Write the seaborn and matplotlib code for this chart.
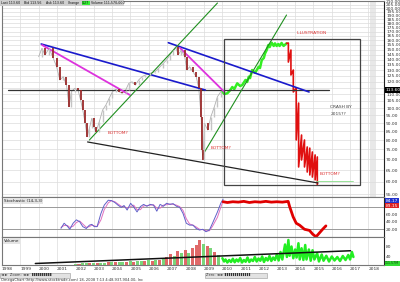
import matplotlib
matplotlib.use("Agg")
import matplotlib.pyplot as plt
import matplotlib.transforms as mtrans
from matplotlib.patches import Rectangle
from matplotlib.ticker import NullLocator, NullFormatter
import seaborn as sns

# ---------------- data ----------------
hist_years = [2000.00, 2000.18, 2000.35, 2000.57, 2000.80, 2000.98, 2001.16, 2001.34, 2001.52, 2001.66,
              2001.79, 2001.97, 2002.15, 2002.29, 2002.41, 2002.54, 2002.65, 2002.77, 2002.90, 2003.01,
              2003.13, 2003.31, 2003.49, 2003.67, 2003.85, 2004.03, 2004.21, 2004.39, 2004.56, 2004.75,
              2004.92, 2005.10, 2005.28, 2005.46, 2005.64, 2005.82, 2006.09, 2006.36, 2006.54, 2006.81,
              2006.98, 2007.17, 2007.34, 2007.49, 2007.61, 2007.79, 2007.97, 2008.10, 2008.24, 2008.42,
              2008.60, 2008.74, 2008.87, 2008.92, 2008.97, 2009.05, 2009.23, 2009.40, 2009.59, 2009.76, 2009.94]
hist_price = [142.8, 151.4, 144.5, 151.4, 141.2, 133.2, 121.5, 124.3, 117.3, 100.9,
              112.0, 114.7, 113.3, 105.7, 98.6, 89.9, 81.9, 86.8, 93.1, 87.8,
              84.8, 90.9, 98.6, 102.1, 107.0, 112.0, 113.9, 112.0, 110.7, 113.3,
              118.7, 120.0, 117.3, 121.5, 124.3, 125.8, 127.3, 128.7, 131.7, 136.4,
              139.6, 144.5, 149.6, 153.1, 144.5, 149.6, 142.8, 130.2, 133.2, 128.7,
              124.3, 114.7, 94.1, 74.7, 69.7, 89.9, 85.8, 94.1, 100.9, 108.2, 112.0]

illus_years = [2010.03, 2010.14, 2010.30, 2010.46, 2010.57, 2010.68, 2010.84, 2011.00, 2011.11, 2011.29,
               2011.38, 2011.47, 2011.54, 2011.65, 2011.82, 2012.01, 2012.08, 2012.18, 2012.29, 2012.36,
               2012.45, 2012.54, 2012.61, 2012.72, 2012.83, 2012.90, 2012.99, 2013.08, 2013.15, 2013.26,
               2013.37, 2013.53]
illus_price = [111.8, 110.2, 110.8, 113.3, 115.7, 114.1, 118.7, 116.5, 117.3, 121.5,
               119.8, 124.3, 123.1, 130.2, 127.8, 133.2, 132.0, 139.6, 141.5, 146.2,
               149.6, 154.9, 152.7, 157.4, 153.9, 156.7, 153.9, 156.0, 153.9, 157.1,
               153.9, 156.7]

crash_years = [2013.53, 2013.63, 2013.63, 2013.77, 2013.77, 2013.90, 2013.90, 2014.06, 2014.06, 2014.19,
               2014.19, 2014.35, 2014.35, 2014.51, 2014.51, 2014.66, 2014.66, 2014.80, 2014.80, 2014.94,
               2014.94, 2015.09, 2015.09, 2015.21, 2015.21]
crash_price = [156.7, 157.1, 137.6, 149.6, 125.8, 130.2, 111.8, 114.9, 80.1, 103.5,
               66.4, 82.9, 69.7, 80.1, 66.4, 76.3, 64.1, 75.7, 62.8, 73.7,
               61.9, 72.2, 60.7, 71.2, 58.6]

# trend lines (start, end)
blue1_years, blue1_price = [2000.14, 2009.10], [156.0, 113.3]
blue2_years, blue2_price = [2007.08, 2014.76], [157.4, 111.8]
pink1_years, pink1_price = [2000.19, 2004.98], [154.9, 109.5]
pink2_years, pink2_price = [2007.72, 2010.14], [151.7, 111.8]
green1_years, green1_price = [2002.77, 2009.76], [80.1, 207.4]
green2_years, green2_price = [2008.96, 2013.53], [72.2, 190.8]
black_years, black_price = [2002.67, 2015.25], [79.0, 59.4]
hline_years, hline_price = [1998.31, 2015.84], [113.6, 113.6]
lgreen_years, lgreen_price = [2015.14, 2017.18], [60.2, 60.2]
box_years, box_price = [2010.09, 2017.56], [58.6, 161.5]

stoch_years = [2001.22, 2001.39, 2001.57, 2001.70, 2001.88, 2002.06, 2002.24, 2002.41, 2002.60, 2002.77,
               2002.90, 2003.04, 2003.19, 2003.40, 2003.58, 2003.80, 2003.97, 2004.16, 2004.33, 2004.51,
               2004.66, 2004.83, 2005.02, 2005.19, 2005.37, 2005.55, 2005.73, 2005.91, 2006.09, 2006.27,
               2006.45, 2006.63, 2006.81, 2006.98, 2007.17, 2007.34, 2007.52, 2007.70, 2007.88, 2008.06,
               2008.24, 2008.42, 2008.60, 2008.78, 2008.96, 2009.13, 2009.32, 2009.49, 2009.76, 2009.94, 2010.07]
stoch_k = [22.5, 36, 28, 20, 36, 45, 40, 27, 22, 31, 33, 27, 27, 62, 84, 97, 96, 91, 84, 78,
           83, 71, 89, 79, 66, 80, 86, 81, 86, 84, 68, 86, 81, 89, 86, 88, 81, 78, 62, 36,
           31, 31, 22, 18, 20, 13.5, 18, 36, 66, 89, 100]
stoch_d = [25, 30, 30, 25, 28, 38, 42, 34, 25, 27, 31, 29, 27, 45, 72, 90, 96, 93, 87, 81,
           80, 76, 80, 84, 72, 72, 82, 83, 84, 85, 76, 76, 84, 85, 87, 86, 84, 80, 70, 48,
           34, 31, 26, 20, 19, 16, 16, 28, 52, 78, 95]
stoch_ill_years = [2010.07, 2010.30, 2010.60, 2010.90, 2011.20, 2011.50, 2011.80, 2012.10, 2012.40, 2012.70,
                   2013.00, 2013.30, 2013.62, 2013.70, 2013.89, 2014.06, 2014.24, 2014.51, 2014.78, 2014.96,
                   2015.14, 2015.32, 2015.50, 2015.68]
stoch_ill = [93, 91, 93, 92, 94, 91, 93, 92, 94, 92, 93, 92, 94, 80, 53, 36, 31, 20, 17, 7, 0, 10, 20, 29]

vol_years = [2002.0, 2002.2, 2002.4, 2002.6, 2002.8, 2003.0, 2003.2, 2003.4, 2003.6, 2003.8,
             2004.0, 2004.2, 2004.4, 2004.6, 2004.8, 2005.0, 2005.2, 2005.4, 2005.6, 2005.8,
             2006.0, 2006.2, 2006.4, 2006.6, 2006.8, 2007.0, 2007.2, 2007.4, 2007.6, 2007.8,
             2008.0, 2008.2, 2008.4, 2008.6, 2008.8, 2009.0, 2009.2, 2009.4, 2009.6, 2009.8]
vol_vals = [13, 14, 15, 16, 15, 16, 17, 18, 17, 19, 20, 19, 21, 22, 21, 23, 22, 24, 25, 24,
            27, 26, 30, 28, 34, 40, 52, 45, 64, 55, 70, 58, 75, 88, 108, 92, 84, 76, 62, 50]
vol_dir = ['g', 'r', 'g', 'g', 'r', 'g', 'r', 'g', 'g', 'r', 'g', 'r', 'g', 'g', 'r', 'g', 'r', 'g', 'g', 'r',
           'g', 'r', 'g', 'r', 'g', 'r', 'r', 'g', 'r', 'g', 'r', 'g', 'r', 'r', 'r', 'g', 'r', 'g', 'r', 'g']
vol_ill_years = [2010.03, 2010.12, 2010.20, 2010.30, 2010.40, 2010.50, 2010.60, 2010.70, 2010.80, 2010.90,
                 2011.00, 2011.10, 2011.20, 2011.30, 2011.40, 2011.50, 2011.60, 2011.70, 2011.80, 2011.90,
                 2012.00, 2012.10, 2012.20, 2012.30, 2012.40, 2012.50, 2012.60, 2012.70, 2012.80, 2012.90,
                 2013.00, 2013.10, 2013.20, 2013.30, 2013.45, 2013.55, 2013.63, 2013.70, 2013.80, 2013.90,
                 2014.00, 2014.08, 2014.18, 2014.25, 2014.35, 2014.45, 2014.55, 2014.62, 2014.75, 2014.85,
                 2014.95, 2015.05, 2015.20, 2015.30, 2015.45, 2015.55, 2015.70, 2015.85, 2016.00, 2016.15,
                 2016.30, 2016.45, 2016.60, 2016.75, 2016.90, 2017.00, 2017.10, 2017.18]
vol_ill = [35, 22, 30, 18, 28, 20, 33, 19, 30, 22, 36, 18, 28, 21, 38, 20, 30, 24, 40, 22,
           34, 25, 42, 20, 36, 26, 44, 24, 38, 28, 50, 26, 60, 30, 90, 40, 108, 45, 82, 35,
           70, 38, 95, 30, 75, 28, 88, 30, 70, 25, 67, 30, 55, 22, 50, 25, 45, 22, 42, 26,
           40, 24, 44, 28, 48, 30, 60, 40]
vol_line_years, vol_line_vals = [1999.82, 2017.02], [14, 65]

year_ticks = list(range(1998, 2019))
year_labels = [str(y) for y in year_ticks]
price_ticks = list(range(55, 211, 5))
stoch_ticks = [20, 40, 60]
vol_ticks = [40, 80]

header_items = [("Last 113.60", 1), ("Bid 113.56", 24), ("Ask 113.60", 46), ("Change", 68),
                ("0.27", 82), ("Volume 111,570,000", 91)]

# ---------------- figure ----------------
sns.set_theme(style="white")
plt.rcParams['font.family'] = ['DejaVu Sans']

W, H = 400, 282
fig = plt.figure(figsize=(W / 100, H / 100), dpi=100)
fig.patch.set_facecolor('white')


def panel(y0, y1):
    return [2 / W, 1 - y1 / H, (384 - 2) / W, (y1 - y0) / H]


axp = fig.add_axes(panel(1, 197))
axs = fig.add_axes(panel(197, 237), sharex=axp)
axv = fig.add_axes(panel(237, 265), sharex=axp)

GRID = '#dcdcdc'
for ax in (axp, axs, axv):
    ax.set_facecolor('white')
    for s in ax.spines.values():
        s.set_color('#777777')
        s.set_linewidth(0.8)
    ax.spines['right'].set_color('#222222')
    ax.set_xticks(year_ticks)
    ax.grid(True, axis='x', color=GRID, lw=0.5)
    ax.tick_params(axis='x', length=0, labelbottom=False)
    ax.yaxis.tick_right()
    ax.tick_params(axis='y', length=0, pad=1.5, labelsize=3.2, colors='#333333')

axp.set_xlim(1998.31, 2018.85)


def seg(ax, xs, ys, **kw):
    sns.lineplot(x=xs, y=ys, ax=ax, sort=False, estimator=None, legend=False, **kw)


# ---- price panel ----
axp.set_yscale('log')
axp.set_ylim(53.9, 210.3)
axp.set_yticks(price_ticks, ['' if t == 115 else f'{t:.2f}' for t in price_ticks])
axp.yaxis.set_minor_locator(NullLocator())
axp.yaxis.set_minor_formatter(NullFormatter())
axp.grid(True, axis='y', color=GRID, lw=0.5)
axp.axvspan(2018.1, 2018.42, color='#e8e8e8', lw=0, zorder=0)

# history candles (body between consecutive closes)
seg(axp, hist_years, hist_price, color='#b0b0b0', lw=0.6)
for i in range(1, len(hist_years)):
    lo, hi = sorted((hist_price[i - 1], hist_price[i]))
    down = hist_price[i] < hist_price[i - 1]
    axp.vlines(hist_years[i], lo, hi, color='#9b2b2b' if down else '#c4c4c4',
               lw=1.3 if down else 1.0, zorder=3)

seg(axp, illus_years, illus_price, color='#33ee22', lw=1.8)
seg(axp, crash_years, crash_price, color='#e01010', lw=1.2)

seg(axp, hline_years, hline_price, color='#333333', lw=0.9)
seg(axp, blue1_years, blue1_price, color='#1a1acc', lw=1.2)
seg(axp, blue2_years, blue2_price, color='#1a1acc', lw=1.2)
seg(axp, pink1_years, pink1_price, color='#dd33dd', lw=1.3)
seg(axp, pink2_years, pink2_price, color='#dd33dd', lw=1.3)
seg(axp, green1_years, green1_price, color='#1f8f1f', lw=0.8)
seg(axp, green2_years, green2_price, color='#1f8f1f', lw=0.8)
seg(axp, black_years, black_price, color='#222222', lw=0.9)
seg(axp, lgreen_years, lgreen_price, color='#88dd88', lw=0.6)
axp.add_patch(Rectangle((box_years[0], box_price[0]), box_years[1] - box_years[0],
                        box_price[1] - box_price[0], fill=False, ec='#444444', lw=0.9, zorder=4))

tcfg = dict(fontsize=3.2, va='center', ha='left', zorder=6)
axp.text(2003.74, 83.9, "BOTTOM?", color='#dd3333', **tcfg)
axp.text(2009.39, 75.7, "BOTTOM?", color='#dd3333', **tcfg)
axp.text(2015.35, 63.2, "BOTTOM?", color='#dd3333', **tcfg)
axp.text(2014.06, 168.0, "ILLUSTRATION", color='#dd3333', **tcfg)
axp.text(2015.9, 100.7, "CRASH BY", color='#444444', **tcfg)
axp.text(2015.95, 95.9, "2015??", color='#444444', **tcfg)

rtrans = mtrans.blended_transform_factory(axp.transAxes, axp.transData)
axp.text(1.004, 113.6, "113.60", transform=rtrans, color='white', fontsize=3.2, va='center',
         ha='left', clip_on=False, zorder=20,
         bbox=dict(boxstyle='square,pad=0.2', fc='black', ec='none'))

# ---- stochastic panel ----
axs.set_ylim(-0.5, 105.6)
axs.set_yticks(stoch_ticks, [f'{t:.2f}' for t in stoch_ticks])
axs.axhline(80, color='#999999', lw=0.7)
axs.axhline(20, color='#999999', lw=0.7)
seg(axs, stoch_years, stoch_d, color='#e070c0', lw=0.7)
seg(axs, stoch_years, stoch_k, color='#6060c8', lw=0.7)
seg(axs, stoch_ill_years, stoch_ill, color='#e00000', lw=2.0)
axs.text(0.004, 0.9, "Stochastic (14,3,3)", transform=axs.transAxes, fontsize=3.0, va='center',
         ha='left', color='#222222', bbox=dict(boxstyle='square,pad=0.15', fc='#e4e4e4', ec='none'))
strans = mtrans.blended_transform_factory(axs.transAxes, axs.transData)
axs.text(1.004, 95, "84.17", transform=strans, color='white', fontsize=3.2, va='center', ha='left',
         clip_on=False, bbox=dict(boxstyle='square,pad=0.2', fc='#2233cc', ec='none'))
axs.text(1.004, 83, "83.15", transform=strans, color='white', fontsize=3.2, va='center', ha='left',
         clip_on=False, bbox=dict(boxstyle='square,pad=0.2', fc='#dd2222', ec='none'))

# ---- volume panel ----
axv.set_ylim(8, 120)
axv.set_yticks(vol_ticks, [str(t) for t in vol_ticks])
vcols = ['#e06868' if d == 'r' else '#7ad67a' for d in vol_dir]
axv.bar(vol_years, vol_vals, width=0.17, color=vcols, lw=0, zorder=2)
seg(axv, vol_ill_years, vol_ill, color='#22ee22', lw=1.8)
seg(axv, vol_line_years, vol_line_vals, color='#111111', lw=1.1)
axv.text(0.004, 0.86, "Volume", transform=axv.transAxes, fontsize=3.0, va='center', ha='left',
         color='#222222', bbox=dict(boxstyle='square,pad=0.15', fc='#e4e4e4', ec='none'))
vtrans = mtrans.blended_transform_factory(axv.transAxes, axv.transData)
axv.text(1.003, 14, "111.57M", transform=vtrans, color='#114411', fontsize=2.3, va='center',
         ha='left', clip_on=False, bbox=dict(boxstyle='square,pad=0.1', fc='#33dd33', ec='none'))

axv.tick_params(axis='x', labelbottom=True, labelsize=3.2, pad=1.5, colors='#333333')
axv.set_xticks(year_ticks, year_labels)
for lbl in axv.get_xticklabels():
    lbl.set_ha('left')

# ---- header / footer ----
fig.add_artist(Rectangle((0, 1 - 6 / H), 124 / W, 6 / H, transform=fig.transFigure,
                         fc='#cfcfcf', ec='none', zorder=5))
for txt, xpx in header_items:
    kw = dict(fontsize=2.3, va='center', ha='left', color='#111111', zorder=6)
    if txt == "0.27":
        kw['bbox'] = dict(boxstyle='square,pad=0.1', fc='#33ee33', ec='none')
    fig.text(xpx / W, 1 - 3 / H, txt, **kw)

fig.add_artist(Rectangle((0, 1 - 277.5 / H), 70 / W, 4.5 / H, transform=fig.transFigure,
                         fc='#e2e2e2', ec='#999999', lw=0.4))
fig.text(1 / W, 1 - 275.2 / H, "\u25c4 \u25ba  Zoom: \u25c4 \u25ba  \u25ae\u25ae\u25ae\u25ae\u25ae\u25ae\u25ae\u25ae\u25ae\u25ae",
         fontsize=2.6, va='center', ha='left', color='#333333')
fig.add_artist(Rectangle((205 / W, 1 - 277.5 / H), 62 / W, 4.5 / H, transform=fig.transFigure,
                         fc='#e2e2e2', ec='#999999', lw=0.4))
fig.text(206 / W, 1 - 275.2 / H, "Zero: \u25c4 \u25ba \u25ae\u25ae\u25ae\u25ae\u25ae\u25ae\u25ae\u25ae\u25ae\u25ae\u25ae\u25ae\u25ae",
         fontsize=2.6, va='center', ha='left', color='#333333')
fig.text(1 / W, 1 - 280 / H, "OmegaChart (http://www.stocktrade.com) 18, 2008 7:13 4:48,937,904.00, Inc",
         fontsize=2.6, va='center', ha='left', color='#333333')

fig.savefig("out.png", dpi=100)
